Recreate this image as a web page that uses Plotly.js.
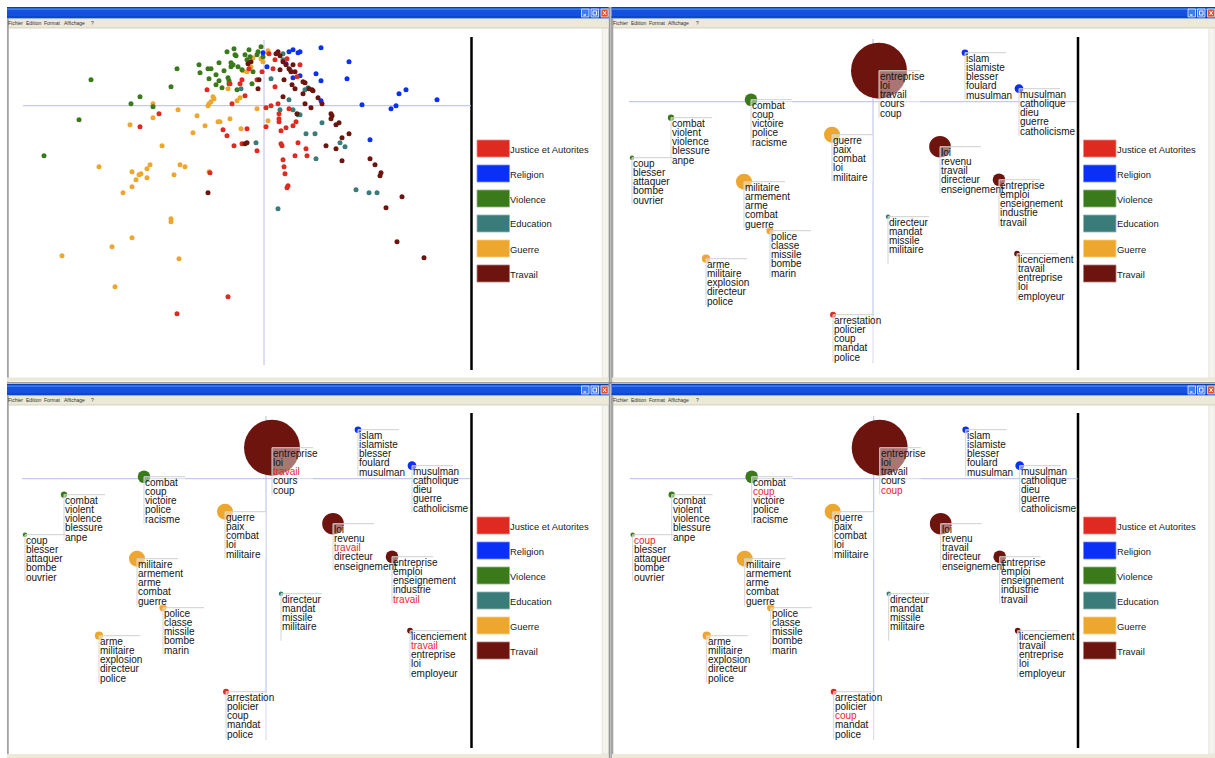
<!DOCTYPE html>
<html>
<head>
<meta charset="utf-8">
<script src="https://cdn.plot.ly/plotly-3.0.1.min.js"></script>
<style>
html, body { margin: 0; padding: 0; background: #ffffff; }
#chart { width: 1215px; height: 758px; }
</style>
</head>
<body>
<div id="chart"></div>
<script>
// ---- Categories (thèmes) ----
const categories = ['Justice et Autorites', 'Religion', 'Violence', 'Education', 'Guerre', 'Travail'];
const categoryColors = ['#de2a20', '#0a30f5', '#3b7a1b', '#3a7c79', '#eea72e', '#6d140f'];

// ---- Word projections on the factor plane (axis 1, axis 2), per theme ----
const justiceX = [-1.05,-1.24,-0.57,-0.54,-0.41,-0.37,-0.34,-0.32,-0.30,-0.24,-0.22,-0.19,-0.17,-0.22,-0.07,-0.07,0.02,0.02,0.07,0.09,0.11,0.14,0.15,0.15,0.15,0.17,0.18,0.17,0.19,0.20,0.21,0.22,0.23,0.24,0.25,0.29,0.31,0.34,0.32,0.42,0.43,-0.36,-0.87,0.05,0.11,0.23,0.33,-0.15,-0.02,0.36];
const justiceY = [-0.08,-0.21,0.16,-0.67,-0.24,-0.30,0.22,0.02,-0.40,0.22,0.26,0.10,-0.23,-0.38,-0.45,0.26,-0.02,-0.21,0.00,0.37,0.19,0.02,-0.08,-0.13,-0.16,-0.38,-0.40,-0.25,-0.54,-0.61,-0.68,-0.22,-0.82,-0.80,-0.03,-0.20,-0.50,-0.37,-0.16,-0.43,-0.50,-1.91,-2.08,0.52,0.46,0.47,0.29,0.37,0.34,0.41];

const religionX = [-0.01,0.25,0.29,0.34,0.03,0.29,0.57,0.85,0.52,0.83,0.57,0.36,0.36,1.35,1.42,1.73,0.98,1.27,1.32,0.57,1.06,0.22];
const religionY = [0.53,0.54,0.56,0.53,0.39,0.28,0.58,0.44,0.32,0.27,0.25,0.54,0.30,0.12,0.16,0.06,0.01,-0.03,0.00,0.05,-0.34,0.42];

const violenceX = [-1.73,-1.85,-2.20,-1.33,-1.24,-1.11,-0.93,-0.87,-0.65,-0.64,-0.56,-0.53,-0.55,-0.48,-0.48,-0.45,-0.45,-0.42,-0.40,-0.36,-0.35,-0.35,-0.33,-0.33,-0.31,-0.30,-0.29,-0.28,-0.27,-0.26,-0.19,-0.17,-0.15,-0.14,-0.12,-0.11,-0.07,-0.06,-0.03,-0.01,-0.22,-0.37];
const violenceY = [0.26,-0.14,-0.50,0.02,0.09,-0.01,0.19,0.37,0.41,0.33,0.37,0.37,0.27,0.31,0.21,0.43,0.25,0.18,0.35,0.28,0.25,0.22,0.39,0.43,0.41,0.57,0.51,0.50,0.16,0.39,0.51,0.46,0.56,0.49,0.22,0.34,0.51,0.54,0.59,0.49,0.36,0.54];

const educationX = [0.14,-0.23,-0.08,0.07,0.25,0.29,0.34,0.16,0.19,0.41,0.44,0.36,0.58,0.42,0.51,0.76,0.81,0.52,0.92,1.05,1.13,0.19,0.26];
const educationY = [-1.03,0.17,-0.37,0.27,0.06,-0.04,-0.09,-0.04,0.52,0.16,0.18,-0.09,-0.17,-0.28,-0.28,-0.37,-0.41,-0.53,-0.84,-0.87,-0.87,0.46,0.36];

const guerreX = [-1.11,-1.11,-1.34,-0.86,-1.02,-0.71,-0.67,-0.59,-0.56,-0.55,-0.53,-0.51,-0.50,-0.46,-0.44,-0.36,-0.34,-0.27,-0.24,-0.23,-0.07,0.04,-1.65,-1.32,-1.28,-1.25,-1.23,-1.17,-1.14,-1.17,-0.90,-0.84,-0.79,-0.55,-1.41,-1.32,-0.93,-0.93,-1.32,-1.52,-2.02,-0.85,-1.49,-0.21,-0.17,-0.13,-0.11,-0.03,0.04,0.04,-0.01];
const guerreY = [0.02,-0.12,-0.19,-0.04,-0.40,-0.27,-0.10,-0.20,0.00,0.02,0.04,0.09,0.07,-0.16,-0.16,0.17,-0.13,0.05,0.08,-0.23,-0.03,-0.15,-0.61,-0.66,-0.74,-0.69,-0.68,-0.63,-0.59,-0.72,-0.69,-0.59,-0.61,-0.66,-0.87,-0.81,-1.13,-1.16,-1.32,-1.41,-1.50,-1.53,-1.81,0.35,0.34,0.39,0.48,0.47,0.55,0.53,0.44];

const travailX = [-0.56,-0.19,-0.17,-0.06,-0.05,0.16,0.19,0.20,0.28,0.31,0.33,0.39,0.41,0.45,0.48,0.49,0.39,0.54,0.58,0.41,0.47,0.67,0.68,0.67,0.72,0.75,0.85,0.78,0.72,0.62,0.78,1.06,1.11,1.17,1.16,1.38,1.22,1.33,1.60,-0.16,-0.13,0.12,0.14,0.16,0.19,0.22,0.25,0.27,0.31,0.29];
const travailY = [-0.87,-0.38,-0.37,0.17,0.26,0.36,0.09,0.26,0.21,0.17,-0.08,0.24,0.23,0.17,0.16,0.15,0.12,0.08,0.02,0.02,-0.02,-0.08,-0.10,-0.13,-0.19,-0.17,-0.28,-0.32,-0.43,-0.40,-0.55,-0.53,-0.59,-0.67,-0.70,-0.91,-1.02,-1.36,-1.52,0.42,0.44,0.52,0.54,0.50,0.44,0.41,0.37,0.34,0.34,0.41];

// ---- Word classes: centre, weight (number of words), theme index, top-5 words ----
const clusterX = [0.06, 0.92, 1.46, 0.67, 1.26, 1.44, 0.15, -0.40, -1.22, -2.02, -2.41, -0.41, -1.29, -1.03, -1.67];
const clusterY = [0.31, 0.49, 0.13, -0.45, -0.78, -1.52, -1.15, -2.13, 0.02, -0.16, -0.56, -0.33, -0.80, -1.29, -1.57];
const clusterWeight = [784, 11, 19, 117, 40, 8, 5, 9, 40, 10, 5, 64, 64, 13, 17];
const clusterTheme = [5, 1, 1, 5, 5, 5, 3, 0, 2, 2, 2, 4, 4, 4, 4];
const clusterWords = [
  ['entreprise', 'loi', 'travail', 'cours', 'coup'],
  ['islam', 'islamiste', 'blesser', 'foulard', 'musulman'],
  ['musulman', 'catholique', 'dieu', 'guerre', 'catholicisme'],
  ['loi', 'revenu', 'travail', 'directeur', 'enseignement'],
  ['entreprise', 'emploi', 'enseignement', 'industrie', 'travail'],
  ['licenciement', 'travail', 'entreprise', 'loi', 'employeur'],
  ['directeur', 'mandat', 'missile', 'militaire'],
  ['arrestation', 'policier', 'coup', 'mandat', 'police'],
  ['combat', 'coup', 'victoire', 'police', 'racisme'],
  ['combat', 'violent', 'violence', 'blessure', 'anpe'],
  ['coup', 'blesser', 'attaquer', 'bombe', 'ouvrier'],
  ['guerre', 'paix', 'combat', 'loi', 'militaire'],
  ['militaire', 'armement', 'arme', 'combat', 'guerre'],
  ['police', 'classe', 'missile', 'bombe', 'marin'],
  ['arme', 'militaire', 'explosion', 'directeur', 'police']
];
// searched word highlighted in each class view (none, "travail", "coup")
const highlightedWords = [null, 'travail', 'coup'];

const menuItems = ['Fichier', 'Edition', 'Format', 'Affichage', '?'];

// ---------------------------------------------------------------------
const W = 1215, H = 758;
const px = v => v / W;
const py = v => 1 - v / H;
const shapes = [], annotations = [], traces = [];
const TEXT_FONT = 'Liberation Sans, Arial, sans-serif';
const LEGEND_FONT = 'Liberation Sans Narrow, Arial Narrow, Liberation Sans, Arial, sans-serif';

function rect(x0, y0, x1, y1, fill, lineColor, lineWidth, layer) {
  shapes.push({type: 'rect', xref: 'paper', yref: 'paper',
    x0: px(x0), x1: px(x1), y0: py(y1), y1: py(y0),
    fillcolor: fill, line: {color: lineColor || 'rgba(0,0,0,0)', width: lineWidth || 0},
    layer: layer || 'below'});
}
function seg(x0, y0, x1, y1, color, width, layer) {
  shapes.push({type: 'line', xref: 'paper', yref: 'paper',
    x0: px(x0), x1: px(x1), y0: py(y0), y1: py(y1),
    line: {color: color, width: width}, layer: layer || 'below'});
}
function text(x, y, str, size, color, family) {
  annotations.push({xref: 'paper', yref: 'paper', x: px(x), y: py(y), text: str,
    showarrow: false, xanchor: 'left', yanchor: 'middle', borderpad: 0, borderwidth: 0,
    font: {size: size, color: color, family: family}});
}
function lighten(hex, t) {
  const n = parseInt(hex.slice(1), 16);
  const c = [n >> 16, (n >> 8) & 255, n & 255].map(v => Math.round(v + (255 - v) * t));
  return 'rgb(' + c.join(',') + ')';
}

// ---- application windows ----
const menuOffsets = [1, 19, 37, 57, 84];
function drawWindow(L, T, R, B) {
  rect(L, T, R, T + 11.5, '#1452de');
  rect(L, T, R, T + 1.2, '#0a3cb8');
  rect(L, T + 1.2, R, T + 3, '#3a78f0');
  rect(L, T + 9, R, T + 11.5, '#0b47d0');
  const bx = [R - 27, R - 17.5, R - 7.5];
  rect(bx[0], T + 2, bx[0] + 7.5, T + 10, '#3f7cf2', '#ffffff', 0.7);
  seg(bx[0] + 2, T + 8, bx[0] + 4.5, T + 8, '#ffffff', 1.2);
  rect(bx[1], T + 2, bx[1] + 7.5, T + 10, '#3f7cf2', '#ffffff', 0.7);
  rect(bx[1] + 2, T + 4, bx[1] + 5.5, T + 8, 'rgba(0,0,0,0)', '#ffffff', 0.9);
  rect(bx[2], T + 2, bx[2] + 7.2, T + 10, '#e0522c', '#ffffff', 0.7);
  seg(bx[2] + 2, T + 4, bx[2] + 5.2, T + 8, '#ffffff', 1);
  seg(bx[2] + 5.2, T + 4, bx[2] + 2, T + 8, '#ffffff', 1);
  rect(L, T + 11.5, R, T + 21, '#ece9d8');
  seg(L, T + 21, R, T + 21, '#cbc8ba', 0.8);
  menuItems.forEach((m, i) => text(L + menuOffsets[i], T + 16, m, 5, '#333333', TEXT_FONT));
  rect(L, T + 11.5, L + 1.8, B, '#a3a3a3');
  rect(R - 6.3, T + 21.5, R, B - 4, '#f4f3ee', '#dddbd2', 0.6);
  rect(L, B - 4, R, B, '#ece9d8');
}
drawWindow(7, 7, 608.5, 381.5);
drawWindow(611.5, 7, 1215, 381.5);
drawWindow(7, 384, 608.5, 758);
drawWindow(611.5, 384, 1215, 758);
seg(609.3, 7, 609.3, 758, '#7d7d7d', 1);
seg(611.0, 7, 611.0, 758, '#7d7d7d', 1);
seg(7, 382.8, 1215, 382.8, '#7d7d7d', 1.2);

// ---- panel frames: separator and theme legend ----
const panelFrames = [
  {xa: 'x',  ya: 'y',  sep: 471.5, top: 37,  bottom: 370, legendTop: 140},
  {xa: 'x2', ya: 'y2', sep: 1078,  top: 37,  bottom: 370, legendTop: 140},
  {xa: 'x3', ya: 'y3', sep: 471.5, top: 413, bottom: 748, legendTop: 517},
  {xa: 'x4', ya: 'y4', sep: 1078,  top: 413, bottom: 748, legendTop: 517}
];
panelFrames.forEach(p => {
  seg(p.sep, p.top, p.sep, p.bottom, '#000000', 2.5);
  categories.forEach((c, i) => {
    const t = p.legendTop + i * 25;
    rect(p.sep + 5.5, t, p.sep + 38, t + 17, categoryColors[i], lighten(categoryColors[i], 0.45), 0.8);
    text(p.sep + 38.5, t + 9, c, 9.4, '#1a1a1a', LEGEND_FONT);
  });
  // axes of the factor plane
  shapes.push({type: 'line', xref: p.xa + ' domain', yref: p.ya, x0: 0, x1: 1, y0: 0, y1: 0,
    line: {color: '#b8bce6', width: 1}, layer: 'below'});
  shapes.push({type: 'line', xref: p.xa, yref: p.ya + ' domain', x0: 0, x1: 0, y0: 0, y1: 1,
    line: {color: '#b8bce6', width: 1}, layer: 'below'});
});

// ---- word cloud (all words, coloured by theme) ----
const wordSeries = [
  [guerreX, guerreY, 4], [violenceX, violenceY, 2], [educationX, educationY, 3],
  [religionX, religionY, 1], [justiceX, justiceY, 0], [travailX, travailY, 5]
];
wordSeries.forEach(([xs, ys, k]) => {
  traces.push({type: 'scatter', mode: 'markers', x: xs, y: ys, xaxis: 'x', yaxis: 'y',
    name: categories[k], marker: {size: 5, color: categoryColors[k], line: {width: 0}},
    cliponaxis: false, hoverinfo: 'skip'});
});

// ---- class views ----
['2', '3', '4'].forEach((id, v) => {
  const xa = 'x' + id, ya = 'y' + id;
  traces.push({type: 'scatter', mode: 'markers', x: clusterX, y: clusterY, xaxis: xa, yaxis: ya,
    marker: {size: clusterWeight, sizemode: 'area', sizeref: 0.5,
      color: clusterTheme.map(k => categoryColors[k]), line: {width: 0}, opacity: 1},
    cliponaxis: false, hoverinfo: 'skip'});
  clusterX.forEach((cx, j) => {
    const cy = clusterY[j];
    const base = {xref: xa, yref: ya, xsizemode: 'pixel', ysizemode: 'pixel', xanchor: cx, yanchor: cy, layer: 'above'};
    shapes.push(Object.assign({type: 'rect', x0: 0, x1: 41, y0: 0, y1: -47,
      fillcolor: 'rgba(255,255,255,0.42)', line: {width: 0}}, base));
    shapes.push(Object.assign({type: 'line', x0: 0, x1: 41, y0: 0, y1: 0,
      line: {color: '#cfcfcf', width: 1}}, base));
    shapes.push(Object.assign({type: 'line', x0: 0, x1: 0, y0: 0, y1: -47,
      line: {color: '#d4d4d4', width: 1}}, base));
    clusterWords[j].forEach((w, i) => {
      annotations.push({xref: xa, yref: ya, x: cx, y: cy, xanchor: 'left', yanchor: 'middle',
        xshift: 1, yshift: -(5.5 + i * 9.25), text: w, showarrow: false, borderpad: 0, borderwidth: 0,
        font: {family: TEXT_FONT, size: 10, color: w === highlightedWords[v] ? '#e5262a' : '#141414'}});
    });
  });
});

// ---- axes ----
function axis(d0, d1, range, anchor, vertical) {
  return {domain: vertical ? [py(d1), py(d0)] : [px(d0), px(d1)], range: range, anchor: anchor,
    visible: false, fixedrange: true, showgrid: false, zeroline: false};
}
const planeX = [-2.44, 2.04], planeY = [-2.61, 0.627];
const layout = {
  width: W, height: H, margin: {l: 0, r: 0, t: 0, b: 0},
  paper_bgcolor: '#ffffff', plot_bgcolor: 'rgba(0,0,0,0)',
  showlegend: false, hovermode: false,
  xaxis:  axis(23, 471, [-2.41, 2.07], 'y'),
  yaxis:  axis(40, 365, [-2.593, 0.657], 'x', true),
  xaxis2: axis(629, 1077, planeX, 'y2'),
  yaxis2: axis(39, 362.7, planeY, 'x2', true),
  xaxis3: axis(22, 470, planeX, 'y3'),
  yaxis3: axis(416, 739.7, planeY, 'x3', true),
  xaxis4: axis(629.7, 1077.7, planeX, 'y4'),
  yaxis4: axis(416, 739.7, planeY, 'x4', true),
  shapes: shapes, annotations: annotations
};
Plotly.newPlot('chart', traces, layout, {staticPlot: true, displayModeBar: false});
</script>
</body>
</html>
